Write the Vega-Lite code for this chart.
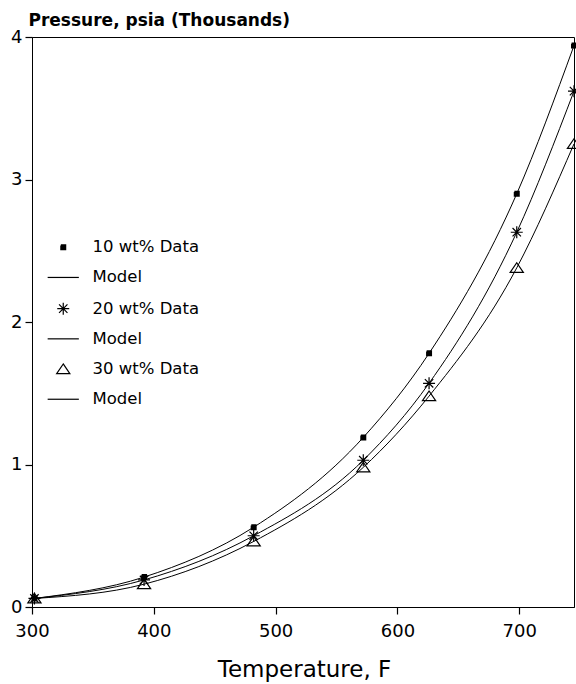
{
  "$schema": "https://vega.github.io/schema/vega-lite/v6.json",
  "width": 542,
  "height": 570,
  "autosize": {"type": "none"},
  "padding": {"left": 32, "top": 37, "right": 2, "bottom": 77},
  "background": "white",
  "config": {
    "view": {"stroke": "black", "strokeWidth": 1},
    "font": "DejaVu Sans",
    "axis": {"labelColor": "black", "tickColor": "black", "domainColor": "black", "titleColor": "black", "grid": false, "tickWidth": 1.2}
  },
  "data": {
    "values": [
      {"temp": 302, "p": 0.06, "series": "d10", "model": "m10"},
      {"temp": 392, "p": 0.21, "series": "d10", "model": "m10"},
      {"temp": 482, "p": 0.56, "series": "d10", "model": "m10"},
      {"temp": 572, "p": 1.19, "series": "d10", "model": "m10"},
      {"temp": 626, "p": 1.78, "series": "d10", "model": "m10"},
      {"temp": 698, "p": 2.9, "series": "d10", "model": "m10"},
      {"temp": 745, "p": 3.94, "series": "d10", "model": "m10"},
      {"temp": 302, "p": 0.06, "series": "d20", "model": "m20"},
      {"temp": 392, "p": 0.19, "series": "d20", "model": "m20"},
      {"temp": 482, "p": 0.5, "series": "d20", "model": "m20"},
      {"temp": 572, "p": 1.03, "series": "d20", "model": "m20"},
      {"temp": 626, "p": 1.57, "series": "d20", "model": "m20"},
      {"temp": 698, "p": 2.63, "series": "d20", "model": "m20"},
      {"temp": 745, "p": 3.62, "series": "d20", "model": "m20"},
      {"temp": 302, "p": 0.06, "series": "d30", "model": "m30"},
      {"temp": 392, "p": 0.16, "series": "d30", "model": "m30"},
      {"temp": 482, "p": 0.46, "series": "d30", "model": "m30"},
      {"temp": 572, "p": 0.98, "series": "d30", "model": "m30"},
      {"temp": 626, "p": 1.48, "series": "d30", "model": "m30"},
      {"temp": 698, "p": 2.38, "series": "d30", "model": "m30"},
      {"temp": 745, "p": 3.25, "series": "d30", "model": "m30"}
    ]
  },
  "layer": [
    {
      "mark": {"type": "line", "color": "black", "strokeWidth": 1, "interpolate": "monotone"},
      "encoding": {
        "x": {
          "field": "temp", "type": "quantitative",
          "scale": {"domain": [300, 745], "nice": false, "zero": false},
          "axis": {
            "values": [300, 400, 500, 600, 700], "title": "Temperature, F",
            "tickSize": 7, "labelPadding": 8, "labelFontSize": 18, "labelFlush": false, "labelOverlap": false,
            "titleFontSize": 23, "titleFontWeight": "normal", "titleX": 272, "titleY": 69,
            "titleAlign": "center", "titleBaseline": "alphabetic",
            "encode": {"ticks": {"update": {"y2": {"value": -7}}}}
          }
        },
        "y": {
          "field": "p", "type": "quantitative",
          "scale": {"domain": [0, 4], "nice": false},
          "axis": {
            "values": [0, 1, 2, 3, 4], "format": "d", "title": "Pressure, psia (Thousands)",
            "tickSize": 7, "labelPadding": 3, "labelFontSize": 18, "labelFlush": false,
            "titleAngle": 0, "titleX": -4, "titleY": -12, "titleAlign": "left", "titleBaseline": "alphabetic",
            "titleFontSize": 17, "titleFontWeight": "bold",
            "encode": {"ticks": {"update": {"x2": {"value": 7}}}}
          }
        },
        "detail": {"field": "model", "type": "nominal"}
      }
    },
    {
      "mark": {"type": "point", "filled": false, "size": 36, "strokeWidth": 1.2, "color": "black", "opacity": 1},
      "encoding": {
        "x": {"field": "temp", "type": "quantitative"},
        "y": {"field": "p", "type": "quantitative"},
        "shape": {
          "field": "series", "type": "nominal",
          "scale": {
            "domain": ["d10", "m10", "d20", "m20", "d30", "m30"],
            "range": [
              "M-0.8,-0.8H0.8V-0.4H-0.8V0H0.8V0.4H-0.8V0.8H0.8V-0.8",
              "M-5.2,0H5.2",
              "M-2,0H2M0,-2V2M-1.4,-1.4L1.4,1.4M-1.4,1.4L1.4,-1.4",
              "M-5.2,0H5.2",
              "M0,-1.7L2.2,1.5H-2.2Z",
              "M-5.2,0H5.2"
            ]
          },
          "legend": {
            "title": null, "orient": "none", "legendX": 23, "legendY": 202, "padding": 0,
            "labelOffset": 21, "labelFontSize": 16.5, "labelColor": "black", "rowPadding": 13.2,
            "symbolStrokeColor": "black", "symbolFillColor": "transparent", "symbolStrokeWidth": 1.2, "symbolSize": 36, "symbolOpacity": 1,
            "labelExpr": "datum.label == 'd10' ? '10 wt% Data' : datum.label == 'd20' ? '20 wt% Data' : datum.label == 'd30' ? '30 wt% Data' : 'Model'"
          }
        }
      }
    }
  ]
}
